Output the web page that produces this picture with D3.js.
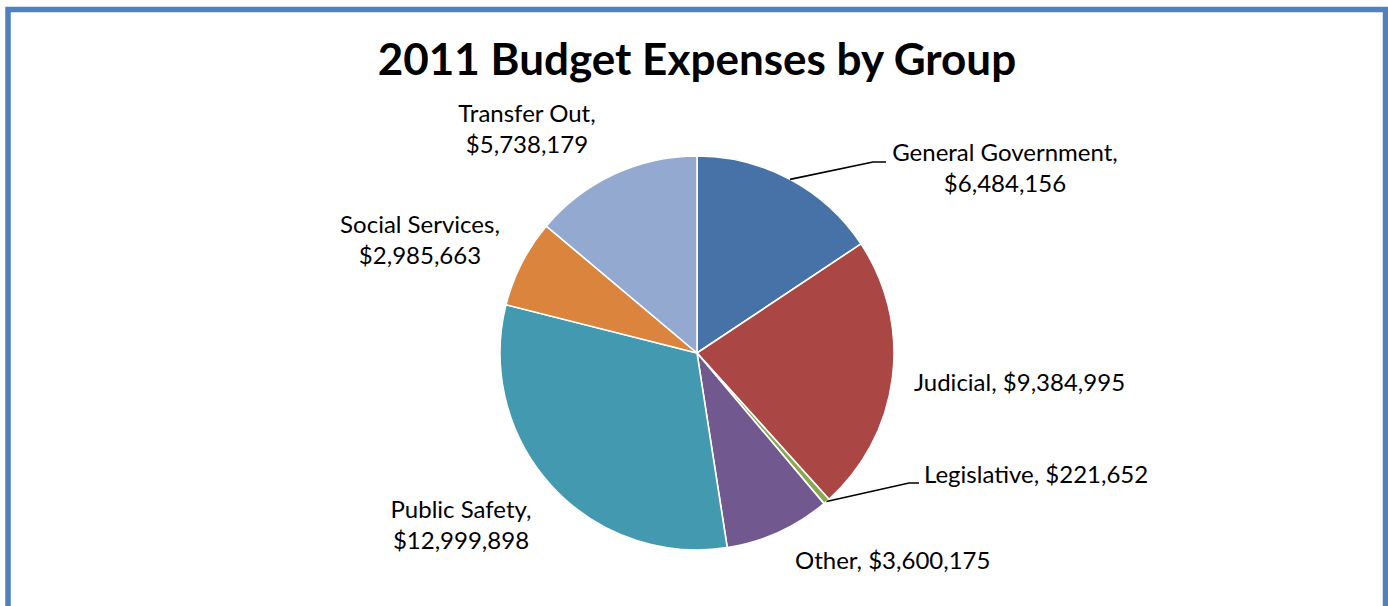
<!DOCTYPE html>
<html>
<head>
<meta charset="utf-8">
<script src="https://cdn.jsdelivr.net/npm/d3@7"></script>
<style>
  html, body { margin: 0; padding: 0; background: #ffffff; }
  svg { display: block; }
  text { font-family: Lato, "Open Sans", sans-serif; fill: #000; }
</style>
</head>
<body>
<svg id="chart" width="1388" height="606"></svg>
<script>
// Expense groups and their 2011 amounts (dollars)
const groups = ["General Government", "Judicial", "Legislative", "Other", "Public Safety", "Social Services", "Transfer Out"];
const amounts = [6484156, 9384995, 221652, 3600175, 12999898, 2985663, 5738179];
const colors = ["#4672a8", "#aa4644", "#8aa64f", "#71598f", "#4299b0", "#db843d", "#94a9d0"];

// Label layout: anchor point, alignment, and optional leader-line elbow
const labelLayout = {
  "General Government": { x: 1005, y: 161, anchor: "middle", lines: 2, elbow: [873, 162], end: [886, 162] },
  "Judicial":           { x: 914,  y: 391, anchor: "start",  lines: 1 },
  "Legislative":        { x: 924,  y: 483, anchor: "start",  lines: 1, elbow: [909, 483], end: [919, 483] },
  "Other":              { x: 795,  y: 569, anchor: "start",  lines: 1 },
  "Public Safety":      { x: 461,  y: 518, anchor: "middle", lines: 2 },
  "Social Services":    { x: 420,  y: 233, anchor: "middle", lines: 2 },
  "Transfer Out":       { x: 527,  y: 122, anchor: "middle", lines: 2 }
};

const data = groups.map((g, i) => ({ name: g, value: amounts[i], color: colors[i] }));
const fmt = d3.format("$,");

const svg = d3.select("#chart");
const W = 1388, H = 606;
const cx = 697, cy = 353, radius = 197;

// Outer frame
svg.append("rect")
  .attr("x", 8).attr("y", 9.5)
  .attr("width", W - 10.5).attr("height", H + 10)
  .attr("fill", "#fff")
  .attr("stroke", "#4f81bd")
  .attr("stroke-width", 5.5);

// Title
svg.append("text")
  .attr("x", cx).attr("y", 75)
  .attr("text-anchor", "middle")
  .style("font-size", "44px")
  .style("font-weight", "bold")
  .text("2011 Budget Expenses by Group");

const pie = d3.pie().value(d => d.value).sort(null);
const arcs = pie(data);
const arc = d3.arc().innerRadius(0).outerRadius(radius);

const g = svg.append("g").attr("transform", `translate(${cx},${cy})`);

g.selectAll("path.slice")
  .data(arcs)
  .join("path")
  .attr("class", "slice")
  .attr("d", arc)
  .attr("fill", d => d.data.color)
  .attr("stroke", "#ffffff")
  .attr("stroke-width", 1.6)
  .attr("stroke-linejoin", "round");

// Leader lines from the slice edge to the label
arcs.forEach(a => {
  const lay = labelLayout[a.data.name];
  if (!lay.elbow) return;
  const mid = (a.startAngle + a.endAngle) / 2;
  const px = cx + radius * Math.sin(mid);
  const py = cy - radius * Math.cos(mid);
  svg.append("polyline")
    .attr("points", [[px, py], lay.elbow, lay.end].map(p => p.join(",")).join(" "))
    .attr("fill", "none")
    .attr("stroke", "#000")
    .attr("stroke-width", 1.6);
});

// Data labels
arcs.forEach(a => {
  const lay = labelLayout[a.data.name];
  const t = svg.append("text")
    .attr("x", lay.x).attr("y", lay.y)
    .attr("text-anchor", lay.anchor)
    .style("font-size", "24px");
  if (lay.lines === 2) {
    t.append("tspan").attr("x", lay.x).text(a.data.name + ",");
    t.append("tspan").attr("x", lay.x).attr("dy", 31).text(fmt(a.data.value));
  } else {
    t.text(a.data.name + ", " + fmt(a.data.value));
  }
});
</script>
</body>
</html>
